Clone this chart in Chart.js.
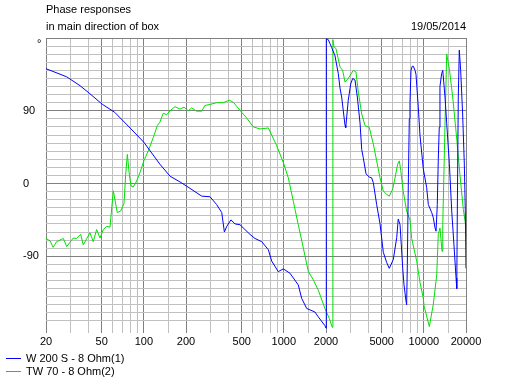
<!DOCTYPE html>
<html><head><meta charset="utf-8">
<script src="https://cdn.jsdelivr.net/npm/chart.js@4.4.1/dist/chart.umd.min.js"></script>
<style>html,body{margin:0;padding:0;background:#fff;}#wrap{width:512px;height:379px;}</style>
</head><body><div id="wrap"><canvas id="c" width="512" height="379"></canvas></div>
<script>
const titleLines = ["Phase responses", "in main direction of box"];
const dateText = "19/05/2014";
const seriesLabels = ["W 200 S - 8 Ohm(1)", "TW 70 - 8 Ohm(2)"];
const seriesColors = ["#0000ff", "#00e000"];

const wooferFreq = [20,28.1,35,41.2,50.5,62,81,100,130,154,181,201,259,297,331,360,376,391,419,448,486,573,622,695,775,819,912,991,1106,1268,1340,1456,1668,1762,1968,2000,2010,2076,2136,2198,2318,2448,2518,2588,2734,2766,2884,2966,3000,3104,3222,3348,3500,3598,3690,3862,4074,4236,4356,4602,4864,5132,5432,5662,6052,6398,6562,6760,7064,7212,7448,7534,7620,7746,7872,7962,8092,8262,8414,8650,8790,9120,9380,9910,10472,10766,11378,11668,12020,12218,12474,12678,12884,13032,13398,13646,14158,14556,15206,15814,16408,16984,17180,17340,17620,17908,18324,18924,19456,19772,20000];
const wooferPhase = [142,132,121,111,98,88,67.5,51,24,9,2,-3,-15.6,-16.4,-26,-36,-60,-53,-45,-50,-51,-63,-68,-72,-82,-96,-109,-105.6,-111,-125.5,-142,-154.6,-159,-165,-176,-179,179,178,173,168,158,136,118,107,72,69,103,117,123,130,128,107,75,42,32,12,8,7,1,-26,-50,-85,-98,-105,-94,-67,-44,-51,-105,-125,-145,-150,-100,0,80,100,140,145,145,140,135,95,60,18,-5,-26,-36,-42,-55,-59,-26,30,69.5,120,136,140,107,75,25,-34,-76,-117,-130,-34,107,165,140,86,24,-34,-105];

const tweeterFreq = [20,21.4,22.5,23.8,26.6,28.1,31.3,33.1,35.4,36.9,41.2,43.5,46,48.6,51.3,54.3,57.3,60.5,64.6,68.3,72.1,74.2,76.2,78.7,81,84,88.8,93.8,100,107.6,116.8,124.8,130,137.6,145.6,153.8,166.8,181,193.6,207.6,219.6,238,259,273,297,331,369,408,435,500,543,605,676,775,889,991,1076,1168,1268,1378,1496,1622,1762,1968,2112,2218,2240,2280,2356,2518,2630,2734,2884,3134,3274,3404,3598,3800,4074,4356,4602,4864,5132,5432,5662,5986,6224,6502,6680,6838,7128,7534,7962,8186,8892,9380,9910,10046,10940,11668,12360,12678,13032,13490,13646,14158,14556,15206,16070,17180,18116,19142,19680,20000];
const tweeterPhase = [-68,-71,-79,-72,-68,-78,-67.5,-68,-63,-76,-61,-72,-57,-67.5,-57,-53,-54,-9,-36,-34,-25,11.5,36,11.5,-3,-4.4,3,13.5,28,40.5,57,71.6,75.7,87,85,90,95,92,94.4,90,93.6,89.5,89.5,96.5,97.8,100,100,103,100.6,88,81,70,67.5,68.7,46.7,26,7,-22,-51,-80,-109,-119,-132,-155,-167,-178,178,169,167,144,140,125.5,130,140,138,113,86,71.6,69.5,48.8,28,7,-9.3,-13.5,-15.6,-7,7,24,28,16,-10,-34,-45,-68,-96,-122,-142,-152,-177,-150,-113,-63,-55,-84,-51,72,160,142,107,55,10,-32,-46,-53];

const xGridValues = [20,30,40,50,60,70,80,90,100,150,200,300,400,500,600,700,800,900,1000,1500,2000,3000,4000,5000,6000,7000,8000,9000,10000,15000,20000];
const xTickLabels = [20,50,100,200,500,1000,2000,5000,10000,20000];
const yTickLabels = [90,0,-90];
const yMajor = [180,90,0,-90];

const FONT = '"Liberation Sans", Arial, sans-serif';
const DARK = '#808080', LIGHT = '#c0c0c0';

const decor = {
  id: 'decor',
  afterDraw(chart) {
    const ctx = chart.ctx;
    const area = chart.chartArea;
    ctx.save();
    ctx.fillStyle = '#000';
    ctx.font = '11px ' + FONT;
    ctx.textBaseline = 'middle';
    ctx.textAlign = 'left';
    ctx.fillText(titleLines[0], area.left, 10);
    ctx.fillText(titleLines[1], area.left, 27);
    ctx.textAlign = 'right';
    ctx.fillText(dateText, area.right, 27);
    ctx.textAlign = 'left';
    ctx.textBaseline = 'alphabetic';
    ctx.fillText('°', 37, 47);
    ctx.textBaseline = 'middle';
    const ys = [358.5, 371.5];
    chart.data.datasets.forEach((ds, i) => {
      ctx.strokeStyle = ds.borderColor;
      ctx.lineWidth = 1;
      ctx.beginPath();
      ctx.moveTo(6, ys[i]);
      ctx.lineTo(21, ys[i]);
      ctx.stroke();
      ctx.fillText(ds.label, 26, ys[i]);
    });
    ctx.restore();
  }
};

new Chart(document.getElementById('c'), {
  type: 'line',
  data: {
    datasets: [
      { label: seriesLabels[0], data: wooferFreq.map((f, i) => ({x: f, y: wooferPhase[i]})),
        borderColor: seriesColors[0], borderWidth: 1, pointRadius: 0, tension: 0, fill: false },
      { label: seriesLabels[1], data: tweeterFreq.map((f, i) => ({x: f, y: tweeterPhase[i]})),
        borderColor: seriesColors[1], borderWidth: 1, pointRadius: 0, tension: 0, fill: false }
    ]
  },
  options: {
    responsive: false,
    animation: false,
    devicePixelRatio: 1,
    layout: { padding: { left: 23, right: 46, top: 38, bottom: 0 } },
    plugins: { legend: { display: false }, tooltip: { enabled: false }, title: { display: false } },
    scales: {
      x: {
        type: 'logarithmic', min: 20, max: 20000,
        afterBuildTicks: (s) => { s.ticks = xGridValues.map(v => ({value: v})); },
        afterFit: (s) => { s.height = 50; },
        border: { display: false },
        grid: {
          color: (c) => xTickLabels.includes(c.tick.value) ? DARK : LIGHT,
          tickColor: (c) => xTickLabels.includes(c.tick.value) ? DARK : LIGHT,
          tickLength: 4, lineWidth: 1
        },
        ticks: {
          autoSkip: false, maxRotation: 0, minRotation: 0, padding: 2, color: '#000',
          font: { family: FONT, size: 11 },
          callback: (v) => xTickLabels.includes(v) ? String(v) : ''
        }
      },
      y: {
        type: 'linear', min: -180, max: 180,
        afterFit: (s) => { s.width = 23; },
        border: { display: false },
        grid: {
          color: (c) => c.tick.value === -180 ? 'rgba(0,0,0,0)' : (yMajor.includes(c.tick.value) ? DARK : LIGHT),
          drawTicks: false, lineWidth: 1
        },
        ticks: {
          stepSize: 10, autoSkip: false, crossAlign: 'far', padding: 0, color: '#000',
          font: { family: FONT, size: 11 },
          callback: (v) => yTickLabels.includes(v) ? String(v) : ''
        }
      }
    }
  },
  plugins: [decor]
});
</script></body></html>
